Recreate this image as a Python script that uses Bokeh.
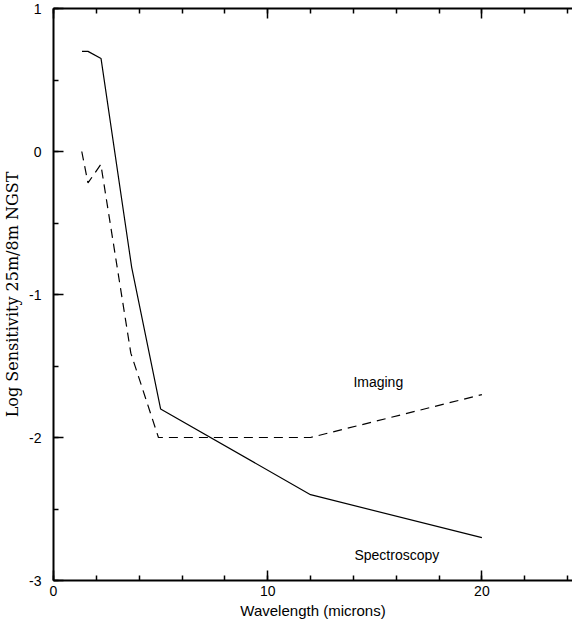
from bokeh.plotting import figure
from bokeh.models import FixedTicker, LinearAxis, Range1d
from bokeh.core.properties import value
from bokeh.embed import file_html
from bokeh.resources import INLINE

# Data
spec_x = [1.33, 1.61, 2.22, 3.65, 5.0, 12.0, 20.0]
spec_y = [0.70, 0.70, 0.65, -0.81, -1.80, -2.40, -2.70]
img_x = [1.32, 1.61, 2.21, 3.61, 4.9, 12.0, 20.0]
img_y = [0.0, -0.22, -0.09, -1.41, -2.0, -2.0, -1.70]

x_major = [0, 10, 20]
x_minor = [0, 2, 4, 6, 8, 10, 12, 14, 16, 18, 20, 22, 24]
y_major = [-3, -2, -1, 0, 1]
y_minor = [-3, -2.5, -2, -1.5, -1, -0.5, 0, 0.5, 1]
y_tick_text = {-3: "-3", -2: "-2", -1: "-1", 0: "0", 1: "1"}

labels = ["Imaging", "Spectroscopy"]
label_x = [14.0, 14.05]
label_y = [-1.61, -2.82]

SANS = "Liberation Sans"
SERIF = "DejaVu Serif"
X0, X1 = 0, 24.23

p = figure(width=572, height=624, x_range=Range1d(X0, X1), y_range=Range1d(-3, 1),
           output_backend="svg", toolbar_location=None,
           min_border_left=49, min_border_right=0, min_border_top=8, min_border_bottom=44)
p.grid.visible = False
p.outline_line_color = None
p.background_fill_color = "white"
p.border_fill_color = "white"

def style(ax, ticker, labels_on=True):
    ax.ticker = ticker
    ax.axis_line_color = "black"
    ax.axis_line_width = 2
    ax.major_tick_in = 10
    ax.major_tick_out = 0
    ax.minor_tick_in = 5
    ax.minor_tick_out = 0
    ax.major_tick_line_color = "black"
    ax.minor_tick_line_color = "black"
    ax.major_tick_line_width = 1.5
    ax.minor_tick_line_width = 1.5
    ax.major_label_text_font = SANS
    ax.major_label_text_font_size = "14px" if labels_on else "0px"
    ax.major_label_text_color = "black"

xt = FixedTicker(ticks=x_major, minor_ticks=x_minor)
yt = FixedTicker(ticks=y_major, minor_ticks=y_minor)

style(p.xaxis[0], xt)
p.xaxis[0].major_label_standoff = 5
p.xaxis[0].axis_label = "Wavelength (microns)"
p.xaxis[0].axis_label_text_font = SANS
p.xaxis[0].axis_label_text_font_style = "normal"
p.xaxis[0].axis_label_text_font_size = "15px"
p.xaxis[0].axis_label_text_color = "black"
p.xaxis[0].axis_label_standoff = 3

style(p.yaxis[0], yt)
p.yaxis[0].major_label_standoff = 12
p.yaxis[0].major_label_overrides = y_tick_text
p.yaxis[0].axis_label = "Log Sensitivity 25m/8m NGST"
p.yaxis[0].axis_label_text_font = SERIF
p.yaxis[0].axis_label_text_font_style = "normal"
p.yaxis[0].axis_label_text_font_size = "16px"
p.yaxis[0].axis_label_text_color = "black"
p.yaxis[0].axis_label_standoff = 4

top = LinearAxis()
style(top, FixedTicker(ticks=x_major, minor_ticks=x_minor), labels_on=False)
top.major_label_standoff = 0
p.add_layout(top, "above")

p.line(spec_x, spec_y, line_color="black", line_width=1.2)
p.line(img_x, img_y, line_color="black", line_width=1.2, line_dash="9 6")

p.text(x=label_x, y=label_y, text=labels, text_font=value(SANS), text_font_size="14px",
       text_align="left", text_baseline="middle", text_color="black")

open("out.html", "w").write(file_html(p, INLINE))
